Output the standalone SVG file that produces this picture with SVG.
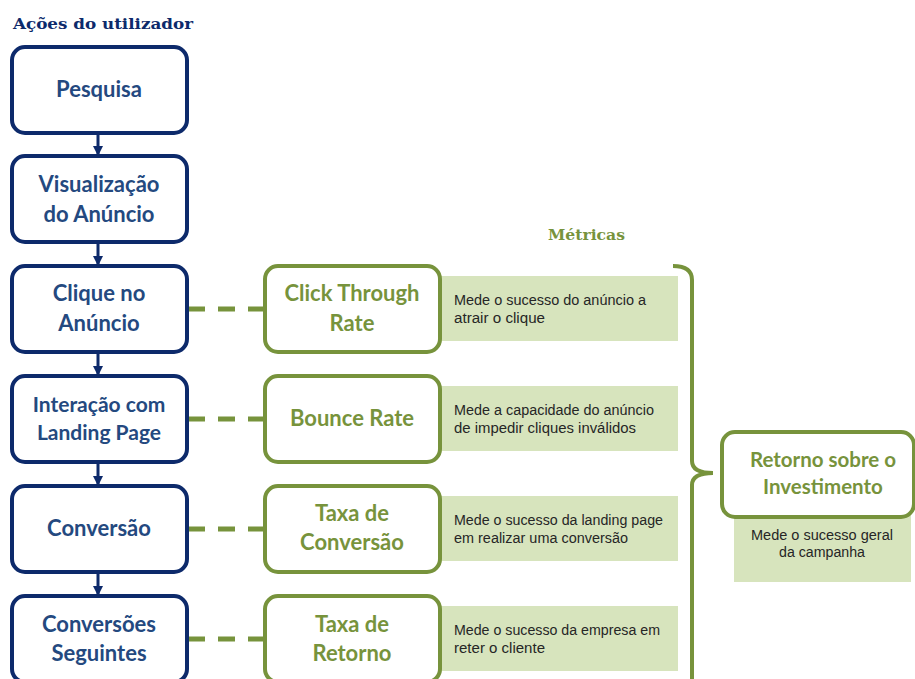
<svg xmlns="http://www.w3.org/2000/svg" width="915" height="679" viewBox="0 0 915 679">
<style>
.bbox{fill:#fff;stroke:#0D2A6B;stroke-width:4}
.gbox{fill:#fff;stroke:#77933C;stroke-width:4}
.desc{fill:#D7E4BD}
.bt{font-family:Lato,"Open Sans",sans-serif;font-weight:700;font-size:22px;fill:#24497F;text-anchor:middle}
.gt{font-family:Lato,"Open Sans",sans-serif;font-weight:700;font-size:22px;fill:#77933C;text-anchor:middle}
.dt{font-family:"Liberation Sans Narrow","Liberation Sans",Arial,sans-serif;font-size:14px;fill:#262626}
.arrow{stroke:#0D2A6B;stroke-width:3;fill:none}
.dash{stroke:#77933C;stroke-width:5;stroke-dasharray:17 13;fill:none}
.head{font-family:"DejaVu Serif",serif;font-weight:700;font-size:14px}
</style>
<defs>
<marker id="ah" markerWidth="10" markerHeight="10" refX="8" refY="5" orient="auto" markerUnits="userSpaceOnUse">
<path d="M0,0 L10,5 L0,10 Z" fill="#0D2A6B"/>
</marker>
</defs>
<text class="head" x="13" y="29" fill="#0D2A6B" textLength="180" lengthAdjust="spacingAndGlyphs">Ações do utilizador</text>
<text class="head" x="548" y="240" fill="#77933C" textLength="77" lengthAdjust="spacingAndGlyphs">Métricas</text>

<g id="connectors">
<line class="arrow" x1="98" y1="135" x2="98" y2="154" marker-end="url(#ah)"/>
<line class="arrow" x1="98" y1="244" x2="98" y2="264" marker-end="url(#ah)"/>
<line class="arrow" x1="98" y1="354" x2="98" y2="374" marker-end="url(#ah)"/>
<line class="arrow" x1="98" y1="464" x2="98" y2="484" marker-end="url(#ah)"/>
<line class="arrow" x1="98" y1="574" x2="98" y2="594" marker-end="url(#ah)"/>
<line class="dash" x1="188" y1="309" x2="265" y2="309"/>
<line class="dash" x1="188" y1="419" x2="265" y2="419"/>
<line class="dash" x1="188" y1="529" x2="265" y2="529"/>
<line class="dash" x1="188" y1="639" x2="265" y2="639"/>
<path d="M673,266 Q692,266 692,280 L692,461 Q692,473 713,473 Q692,473 692,485 L692,690" fill="none" stroke="#77933C" stroke-width="4"/>
</g>

<g id="pesquisa">
<rect class="bbox" x="12" y="47" width="175" height="86" rx="13"/>
<text class="bt" x="99" y="97">Pesquisa</text>
</g>
<g id="visualizacao">
<rect class="bbox" x="12" y="156" width="175" height="86" rx="13"/>
<text class="bt" x="99" y="192">Visualização</text>
<text class="bt" x="99" y="222">do Anúncio</text>
</g>
<g id="clique">
<rect class="bbox" x="12" y="266" width="175" height="86" rx="13"/>
<text class="bt" x="99" y="301">Clique no</text>
<text class="bt" x="99" y="331">Anúncio</text>
</g>
<g id="interacao">
<rect class="bbox" x="12" y="376" width="175" height="86" rx="13"/>
<text class="bt" x="99" y="412" style="font-size:21px">Interação com</text>
<text class="bt" x="99" y="440" style="font-size:21px">Landing Page</text>
</g>
<g id="conversao">
<rect class="bbox" x="12" y="486" width="175" height="86" rx="13"/>
<text class="bt" x="99" y="536">Conversão</text>
</g>
<g id="conversoes-seguintes">
<rect class="bbox" x="12" y="596" width="175" height="86" rx="13"/>
<text class="bt" x="99" y="632">Conversões</text>
<text class="bt" x="99" y="661">Seguintes</text>
</g>

<g id="ctr">
<rect class="desc" x="441" y="276" width="237" height="65"/>
<rect class="gbox" x="265" y="266" width="175" height="86" rx="13"/>
<text class="gt" x="352" y="301">Click Through</text>
<text class="gt" x="352" y="331">Rate</text>
<text class="dt" x="454" y="305" textLength="192" lengthAdjust="spacingAndGlyphs">Mede o sucesso do anúncio a</text>
<text class="dt" x="454" y="323" textLength="91" lengthAdjust="spacingAndGlyphs">atrair o clique</text>
</g>
<g id="bounce">
<rect class="desc" x="441" y="386" width="237" height="65"/>
<rect class="gbox" x="265" y="376" width="175" height="86" rx="13"/>
<text class="gt" x="352" y="426">Bounce Rate</text>
<text class="dt" x="454" y="415" textLength="200" lengthAdjust="spacingAndGlyphs">Mede a capacidade do anúncio</text>
<text class="dt" x="454" y="433" textLength="182" lengthAdjust="spacingAndGlyphs">de impedir cliques inválidos</text>
</g>
<g id="taxa-conversao">
<rect class="desc" x="441" y="496" width="237" height="65"/>
<rect class="gbox" x="265" y="486" width="175" height="86" rx="13"/>
<text class="gt" x="352" y="521">Taxa de</text>
<text class="gt" x="352" y="550">Conversão</text>
<text class="dt" x="454" y="525" textLength="209" lengthAdjust="spacingAndGlyphs">Mede o sucesso da landing page</text>
<text class="dt" x="454" y="543" textLength="174" lengthAdjust="spacingAndGlyphs">em realizar uma conversão</text>
</g>
<g id="taxa-retorno">
<rect class="desc" x="441" y="606" width="237" height="65"/>
<rect class="gbox" x="265" y="596" width="175" height="86" rx="13"/>
<text class="gt" x="352" y="632">Taxa de</text>
<text class="gt" x="352" y="661">Retorno</text>
<text class="dt" x="454" y="635" textLength="206" lengthAdjust="spacingAndGlyphs">Mede o sucesso da empresa em</text>
<text class="dt" x="454" y="653" textLength="91" lengthAdjust="spacingAndGlyphs">reter o cliente</text>
</g>
<g id="roi">
<rect class="desc" x="734" y="515" width="177" height="67"/>
<rect class="gbox" x="722" y="432" width="192" height="85" rx="13"/>
<text class="gt" x="823" y="467" style="font-size:20.5px">Retorno sobre o</text>
<text class="gt" x="823" y="494" style="font-size:20.5px">Investimento</text>
<text class="dt" x="822" y="540" text-anchor="middle" textLength="142" lengthAdjust="spacingAndGlyphs">Mede o sucesso geral</text>
<text class="dt" x="822" y="557" text-anchor="middle" textLength="86" lengthAdjust="spacingAndGlyphs">da campanha</text>
</g>
</svg>
